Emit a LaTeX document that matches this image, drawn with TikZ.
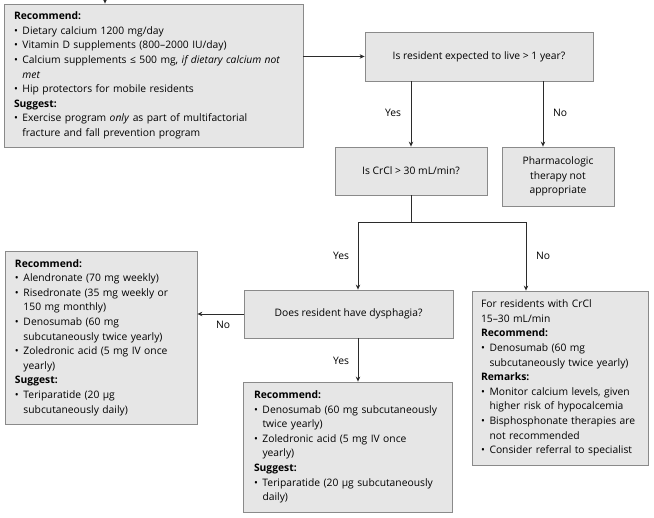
\documentclass[tikz,border=0pt]{standalone}
\usepackage{fontspec}
\setmainfont{Open Sans}
\usetikzlibrary{arrows.meta,calc}
\definecolor{boxfill}{HTML}{E6E6E6}
\definecolor{boxline}{HTML}{8A8A8A}
\definecolor{connc}{HTML}{2B2B2B}
\newcommand{\bu}{\makebox[8.5pt][l]{•}}
\newcommand{\ct}{\hspace*{8.5pt}}
\begin{document}
\begin{tikzpicture}[x=1pt,y=-1pt,
 box/.style={draw=boxline, fill=boxfill, line width=0.8pt, font=\fontsize{10.3}{14.6}\selectfont, inner ysep=0pt},
 conn/.style={draw=connc, line width=0.8pt, -{Stealth[length=5pt,width=4.5pt]}},
 plain/.style={draw=connc, line width=0.8pt},
 lbl/.style={font=\fontsize{10.3}{12}\selectfont, inner sep=1pt}]
\useasboundingbox (0,0) rectangle (654,518);
\fill[white] (0,0) rectangle (654,518);

\node[box, text width=279pt, inner xsep=10pt, minimum height=143pt, align=left] (A) at (153.5,75.5) {%
\textbf{Recommend:}\\
\bu Dietary calcium 1200 mg/day\\
\bu Vitamin D supplements (800–2000 IU/day)\\
\bu Calcium supplements ≤ 500 mg, \textit{if dietary calcium not}\\
\ct\textit{met}\\
\bu Hip protectors for mobile residents\\
\textbf{Suggest:}\\
\bu Exercise program \textit{only} as part of multifactorial\\
\ct fracture and fall prevention program};

\node[box, minimum width=228pt, minimum height=49pt, align=center] (B) at (479,56.5) {Is resident expected to live > 1 year?};
\node[box, minimum width=152pt, minimum height=48pt, align=center] (C) at (411,171) {Is CrCl > 30 mL/min?};
\node[box, minimum width=112pt, minimum height=59pt, align=center] (D) at (558,176.5) {Pharmacologic\\therapy not\\appropriate};
\node[box, minimum width=209pt, minimum height=48pt, align=center] (E) at (348.5,314) {Does resident have dysphagia?};

\node[box, text width=158pt, inner xsep=9pt, minimum height=174pt, align=left] (F) at (560,378) {%
For residents with CrCl\\
15–30 mL/min\\
\textbf{Recommend:}\\
\bu Denosumab (60 mg\\
\ct subcutaneously twice yearly)\\
\textbf{Remarks:}\\
\bu Monitor calcium levels, given\\
\ct higher risk of hypocalcemia\\
\bu Bisphosphonate therapies are\\
\ct not recommended\\
\bu Consider referral to specialist};

\node[box, text width=172pt, inner xsep=10pt, minimum height=173pt, align=left] (G) at (101,337.5) {%
\textbf{Recommend:}\\
\bu Alendronate (70 mg weekly)\\
\bu Risedronate (35 mg weekly or\\
\ct 150 mg monthly)\\
\bu Denosumab (60 mg\\
\ct subcutaneously twice yearly)\\
\bu Zoledronic acid (5 mg IV once\\
\ct yearly)\\
\textbf{Suggest:}\\
\bu Teriparatide (20 µg\\
\ct subcutaneously daily)};

\node[box, text width=187pt, inner xsep=11pt, minimum height=130pt, align=left] (H) at (347.5,447) {%
\textbf{Recommend:}\\
\bu Denosumab (60 mg subcutaneously\\
\ct twice yearly)\\
\bu Zoledronic acid (5 mg IV once\\
\ct yearly)\\
\textbf{Suggest:}\\
\bu Teriparatide (20 µg subcutaneously\\
\ct daily)};

\coordinate (t) at (105,-3);
\coordinate (dx) at (543,0);
\coordinate (j) at (411,222);
\coordinate (ex) at (358,0);
\coordinate (fx) at (526,0);

\draw[conn] (t) -- (A.north -| t);
\draw[conn] (A.east |- B.west) -- (B.west);
\draw[conn] (B.south -| C.north) -- (C.north);
\draw[conn] (B.south -| dx) -- (D.north -| dx);
\draw[plain] (C.south) -- (j);
\draw[conn] (j) -| (E.north -| ex);
\draw[conn] (j) -| (F.north -| fx);
\draw[conn] (E.west) -- (G.east |- E.west);
\draw[conn] (E.south -| ex) -- (H.north -| ex);

\node[lbl] (l1) at (393,113) {Yes};
\node[lbl] (l2) at (560,113) {No};
\node[lbl] (l3) at (341,256) {Yes};
\node[lbl] (l4) at (543,256) {No};
\node[lbl] (l5) at (223,325) {No};
\node[lbl] (l6) at (341,361) {Yes};
\end{tikzpicture}
\end{document}
